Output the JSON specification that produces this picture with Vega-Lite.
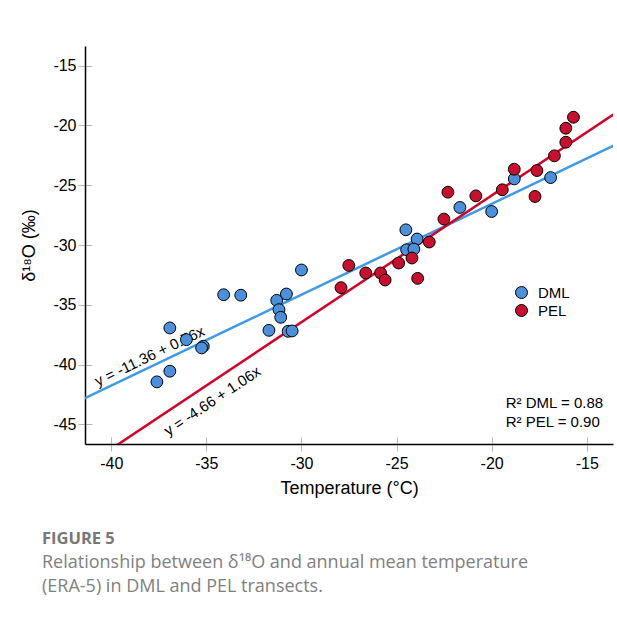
{
  "$schema": "https://vega.github.io/schema/vega-lite/v6.json",
  "width": 528,
  "height": 398,
  "autosize": {"type": "none"},
  "padding": {"left": 85, "top": 46, "right": 4, "bottom": 173},
  "background": "white",
  "config": {"view": {"stroke": null}, "font": "Liberation Sans", "axis": {"grid": false}},
  "title": {
    "text": "FIGURE 5",
    "subtitle": ["Relationship between δ¹⁸O and annual mean temperature", "(ERA-5) in DML and PEL transects."],
    "orient": "bottom",
    "anchor": "start",
    "frame": "group",
    "dx": -43,
    "offset": 34,
    "font": "Open Sans",
    "fontSize": 16.5,
    "fontWeight": "bold",
    "color": "#777777",
    "subtitleFont": "Open Sans",
    "subtitleFontSize": 18,
    "subtitleColor": "#808080",
    "subtitleLineHeight": 24,
    "subtitlePadding": 6
  },
  "datasets": {
    "points": [
      {"group": "DML", "temp": -37.6, "d18O": -41.45},
      {"group": "DML", "temp": -36.92, "d18O": -40.56},
      {"group": "DML", "temp": -36.92, "d18O": -36.94},
      {"group": "DML", "temp": -36.05, "d18O": -37.92},
      {"group": "DML", "temp": -35.16, "d18O": -38.47},
      {"group": "DML", "temp": -35.25, "d18O": -38.61},
      {"group": "DML", "temp": -34.09, "d18O": -34.16},
      {"group": "DML", "temp": -33.19, "d18O": -34.2},
      {"group": "DML", "temp": -31.71, "d18O": -37.14},
      {"group": "DML", "temp": -31.3, "d18O": -34.63},
      {"group": "DML", "temp": -31.18, "d18O": -35.41},
      {"group": "DML", "temp": -31.09, "d18O": -36.05},
      {"group": "DML", "temp": -30.79, "d18O": -34.1},
      {"group": "DML", "temp": -30.7, "d18O": -37.22},
      {"group": "DML", "temp": -30.49, "d18O": -37.19},
      {"group": "DML", "temp": -30.0, "d18O": -32.09},
      {"group": "DML", "temp": -24.51, "d18O": -28.73},
      {"group": "DML", "temp": -23.92, "d18O": -29.5},
      {"group": "DML", "temp": -24.47, "d18O": -30.4},
      {"group": "DML", "temp": -24.09, "d18O": -30.34},
      {"group": "DML", "temp": -21.67, "d18O": -26.86},
      {"group": "DML", "temp": -20.0, "d18O": -27.2},
      {"group": "DML", "temp": -18.81, "d18O": -24.47},
      {"group": "DML", "temp": -16.9, "d18O": -24.36},
      {"group": "PEL", "temp": -27.92, "d18O": -33.57},
      {"group": "PEL", "temp": -27.51, "d18O": -31.71},
      {"group": "PEL", "temp": -26.62, "d18O": -32.34},
      {"group": "PEL", "temp": -25.84, "d18O": -32.34},
      {"group": "PEL", "temp": -25.6, "d18O": -32.93},
      {"group": "PEL", "temp": -24.89, "d18O": -31.51},
      {"group": "PEL", "temp": -24.19, "d18O": -31.09},
      {"group": "PEL", "temp": -23.89, "d18O": -32.79},
      {"group": "PEL", "temp": -23.28, "d18O": -29.75},
      {"group": "PEL", "temp": -22.51, "d18O": -27.83},
      {"group": "PEL", "temp": -22.3, "d18O": -25.58},
      {"group": "PEL", "temp": -20.83, "d18O": -25.89},
      {"group": "PEL", "temp": -19.44, "d18O": -25.38},
      {"group": "PEL", "temp": -18.81, "d18O": -23.66},
      {"group": "PEL", "temp": -17.62, "d18O": -23.77},
      {"group": "PEL", "temp": -17.72, "d18O": -25.94},
      {"group": "PEL", "temp": -16.7, "d18O": -22.54},
      {"group": "PEL", "temp": -16.1, "d18O": -21.4},
      {"group": "PEL", "temp": -16.1, "d18O": -20.23},
      {"group": "PEL", "temp": -15.7, "d18O": -19.31}
    ],
    "fits": [
      {"group": "DML", "temp": -42, "d18O": -43.28},
      {"group": "DML", "temp": -13, "d18O": -21.24},
      {"group": "PEL", "temp": -42, "d18O": -49.18},
      {"group": "PEL", "temp": -13, "d18O": -18.44}
    ],
    "equations": [
      {"group": "DML", "temp": -37.98, "d18O": -39.29, "label": "y = -11.36 + 0.76x"},
      {"group": "PEL", "temp": -34.69, "d18O": -43.05, "label": "y = -4.66 + 1.06x"}
    ],
    "r2": [
      {"temp": -19.26, "d18O": -43.26, "label": "R² DML = 0.88"},
      {"temp": -19.26, "d18O": -44.85, "label": "R² PEL = 0.90"}
    ]
  },
  "encoding": {
    "x": {"field": "temp", "type": "quantitative", "scale": {"domain": [-41.38, -13.62], "nice": false, "zero": false}},
    "y": {"field": "d18O", "type": "quantitative", "scale": {"domain": [-46.65, -13.35], "nice": false, "zero": false}}
  },
  "layer": [
    {
      "data": {"name": "fits"},
      "transform": [{"filter": "datum.group === 'DML'"}],
      "mark": {"type": "line", "strokeWidth": 2.5, "clip": true, "color": "#3f9ae6"},
      "encoding": {
        "x": {"field": "temp", "type": "quantitative", "axis": {"orient": "bottom", "values": [-40, -35, -30, -25, -20, -15], "domain": false, "labels": false, "title": null, "tickSize": -7, "tickColor": "#b8b8b8", "tickWidth": 1}},
        "y": {"field": "d18O", "type": "quantitative", "axis": {"orient": "left", "values": [-45, -40, -35, -30, -25, -20, -15], "domain": false, "labels": false, "title": null, "tickSize": -7, "tickColor": "#b8b8b8", "tickWidth": 1}}
      }
    },
    {
      "data": {"name": "fits"},
      "transform": [{"filter": "datum.group === 'PEL'"}],
      "mark": {"type": "line", "strokeWidth": 2.5, "clip": true, "color": "#d40025"},
      "encoding": {
        "x": {"field": "temp", "type": "quantitative", "axis": null},
        "y": {"field": "d18O", "type": "quantitative", "axis": null}
      }
    },
    {
      "data": {"name": "equations"},
      "transform": [{"filter": "datum.group === 'DML'"}],
      "mark": {"type": "text", "angle": 334.4, "fontSize": 15, "align": "center", "baseline": "middle", "color": "black"},
      "encoding": {
        "x": {"field": "temp", "type": "quantitative", "axis": null},
        "y": {"field": "d18O", "type": "quantitative", "axis": null},
        "text": {"field": "label"}
      }
    },
    {
      "data": {"name": "equations"},
      "transform": [{"filter": "datum.group === 'PEL'"}],
      "mark": {"type": "text", "angle": 326.3, "fontSize": 15, "align": "center", "baseline": "middle", "color": "black"},
      "encoding": {
        "x": {"field": "temp", "type": "quantitative", "axis": null},
        "y": {"field": "d18O", "type": "quantitative", "axis": null},
        "text": {"field": "label"}
      }
    },
    {
      "data": {"name": "r2"},
      "mark": {"type": "text", "fontSize": 15, "align": "left", "baseline": "middle", "color": "black"},
      "encoding": {
        "x": {"field": "temp", "type": "quantitative", "axis": null},
        "y": {"field": "d18O", "type": "quantitative", "axis": null},
        "text": {"field": "label"}
      }
    },
    {
      "data": {"name": "points"},
      "mark": {"type": "point", "shape": "circle", "filled": true, "size": 140, "stroke": "black", "strokeWidth": 1, "opacity": 1},
      "encoding": {
        "x": {"field": "temp", "type": "quantitative", "axis": {"orient": "bottom", "values": [-40, -35, -30, -25, -20, -15], "labelExpr": "replace(datum.label, '−', '-')", "title": "Temperature (°C)", "titleFontSize": 18, "titleFontWeight": "normal", "titleColor": "black", "labelFontSize": 16, "labelColor": "black", "tickSize": 7, "tickColor": "#b8b8b8", "domainColor": "black", "domainWidth": 1.5, "labelPadding": 4, "titlePadding": 8}},
        "y": {"field": "d18O", "type": "quantitative", "axis": {"orient": "left", "values": [-45, -40, -35, -30, -25, -20, -15], "labelExpr": "replace(datum.label, '−', '-')", "title": "δ¹⁸O (‰)", "titleFontSize": 18, "titleFontWeight": "normal", "titleColor": "black", "labelFontSize": 16, "labelColor": "black", "tickSize": 7, "tickColor": "#b8b8b8", "domainColor": "black", "domainWidth": 1.5, "labelPadding": 2, "titlePadding": 14}},
        "fill": {"field": "group", "type": "nominal", "scale": {"domain": ["DML", "PEL"], "range": ["#4a90dc", "#c8102e"]}, "legend": {"title": null, "orient": "none", "legendX": 429, "legendY": 239, "labelFontSize": 15, "labelColor": "black", "symbolSize": 144, "symbolType": "circle", "symbolStrokeColor": "black", "symbolStrokeWidth": 1, "rowPadding": 1, "labelOffset": 9}}
      }
    }
  ],
  "resolve": {"axis": {"x": "independent", "y": "independent"}}
}
